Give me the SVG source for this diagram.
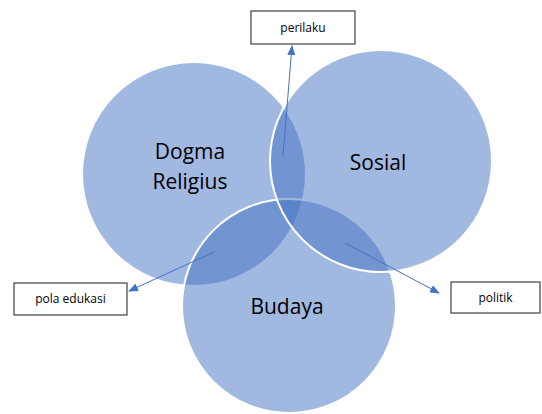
<svg xmlns="http://www.w3.org/2000/svg" width="542" height="414" viewBox="0 0 542 414">
<style>
.c{fill:#4472C4;fill-opacity:0.5;stroke:#ffffff;stroke-width:2}
.big{font-family:"Open Sans","Liberation Sans",sans-serif;font-size:21px;fill:#000;text-anchor:middle}
.box{fill:#fff;stroke:#404040;stroke-width:1.2}
.lbl{font-family:"Open Sans","Liberation Sans",sans-serif;font-size:12px;fill:#000;text-anchor:middle}
.ln{stroke:#4472C4;stroke-width:1;fill:none;marker-end:url(#ah)}
</style>
<defs>
<marker id="ah" markerWidth="10" markerHeight="8" refX="9" refY="4" orient="auto" markerUnits="userSpaceOnUse">
<path d="M0,0 L10,4 L0,8 z" fill="#4472C4"/>
</marker>
</defs>
<rect width="542" height="414" fill="#fff"/>
<g id="dogma">
<circle class="c" cx="194" cy="174" r="112"/>
</g>
<g id="budaya">
<circle class="c" cx="289" cy="306" r="107"/>
</g>
<g id="sosial">
<circle class="c" cx="381" cy="161" r="111"/>
</g>
<g id="texts">
<text class="big" x="190" y="159">Dogma</text>
<text class="big" x="190" y="189">Religius</text>
<text class="big" x="378" y="170">Sosial</text>
<text class="big" x="287" y="314">Budaya</text>
</g>
<g id="connectors">
<line class="ln" x1="283" y1="156" x2="292" y2="46"/>
<line class="ln" x1="214" y1="252" x2="129" y2="291"/>
<line class="ln" x1="345" y1="243" x2="439" y2="293"/>
</g>
<g id="perilaku">
<rect class="box" x="251" y="11" width="104" height="33"/>
<text class="lbl" x="303" y="32">perilaku</text>
</g>
<g id="pola">
<rect class="box" x="14" y="283" width="113" height="32"/>
<text class="lbl" x="70.5" y="303">pola edukasi</text>
</g>
<g id="politik">
<rect class="box" x="451" y="282" width="89" height="31"/>
<text class="lbl" x="495.5" y="302">politik</text>
</g>
</svg>
